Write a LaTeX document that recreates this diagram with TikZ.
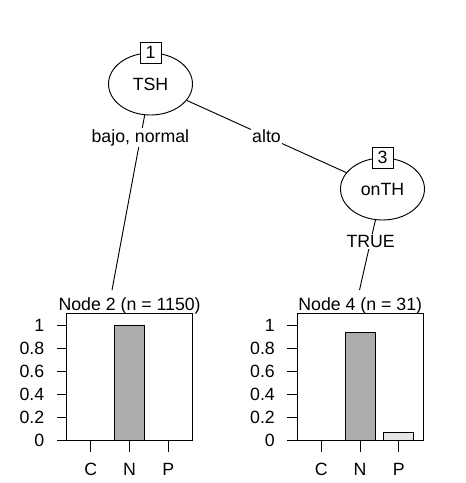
\documentclass[tikz,border=0pt]{standalone}
\usepackage{fontspec}
\setmainfont{Liberation Sans}
\usetikzlibrary{shapes.geometric}
\definecolor{bardark}{RGB}{173,173,173}
\definecolor{barlight}{RGB}{230,230,230}
\tikzset{
  split/.style={draw, ellipse, fill=white, minimum width=63pt, minimum height=46.5pt, inner sep=0pt},
  idbox/.style={draw, fill=white, minimum size=15.75pt, inner sep=0pt},
  edgelabel/.style={fill=white, inner sep=1pt},
  ticklabel/.style={inner sep=0pt}
}
\begin{document}
\begin{tikzpicture}[x=0.75pt, y=-0.75pt, line width=0.7pt, font=\fontsize{13.3}{15}\selectfont]
    \useasboundingbox (0,0) rectangle (466,483);
    % Inner nodes
    \node [split] (n1) at (150.5,84) {TSH};
    \node [split] (n3) at (382.5,189) {onTH};
    \node [idbox] (id1) at (n1.north) {1};
    \node [idbox] (id3) at (n3.north) {3};
    % Tops of the terminal panels
    \coordinate (top2) at (112,290);
    \coordinate (top4) at (359.5,290);
    % Edges
    \draw (n1) -- node [edgelabel, pos=0.13] (lab2) {bajo, normal} (top2);
    \draw (n1) -- node [edgelabel, pos=0.5] (lab3) {alto} (n3);
    \draw (n3) -- node [edgelabel, pos=0.3] (lab4) {TRUE} (top4);
    % Terminal node 2
    \begin{scope}
        \draw (66.7,313.3) rectangle (192.5,440);
        \draw [fill=bardark] (114.5,440) rectangle (144.5,325);
        \foreach \v [count=\i] in {0,0.2,0.4,0.6,0.8,1}
            \draw (66.7,440-115*\v) -- (56.7,440-115*\v) node [ticklabel, anchor=east] (yla\i) at (44.7,440-115*\v) {\v};
        \foreach \x/\c in {90.7/C,129.5/N,168.3/P}
            \draw (\x,440) -- (\x,451.7) node (xla\c) at (\x,469) {\c};
        \node [anchor=base] (title2) at (129.6,310) {Node 2 (n = 1150)};
    \end{scope}
    % Terminal node 4
    \begin{scope}[shift={(230.6,0)}]
        \draw (66.7,313.3) rectangle (192.5,440);
        \draw [fill=bardark] (114.5,440) rectangle (144.5,332.4);
        \draw [fill=barlight] (153.3,440) rectangle (183.3,432.6);
        \foreach \v [count=\i] in {0,0.2,0.4,0.6,0.8,1}
            \draw (66.7,440-115*\v) -- (56.7,440-115*\v) node [ticklabel, anchor=east] (ylb\i) at (44.7,440-115*\v) {\v};
        \foreach \x/\c in {90.7/C,129.5/N,168.3/P}
            \draw (\x,440) -- (\x,451.7) node (xlb\c) at (\x,469) {\c};
        \node [anchor=base] (title4) at (129.6,310) {Node 4 (n = 31)};
    \end{scope}
\end{tikzpicture}
\end{document}
